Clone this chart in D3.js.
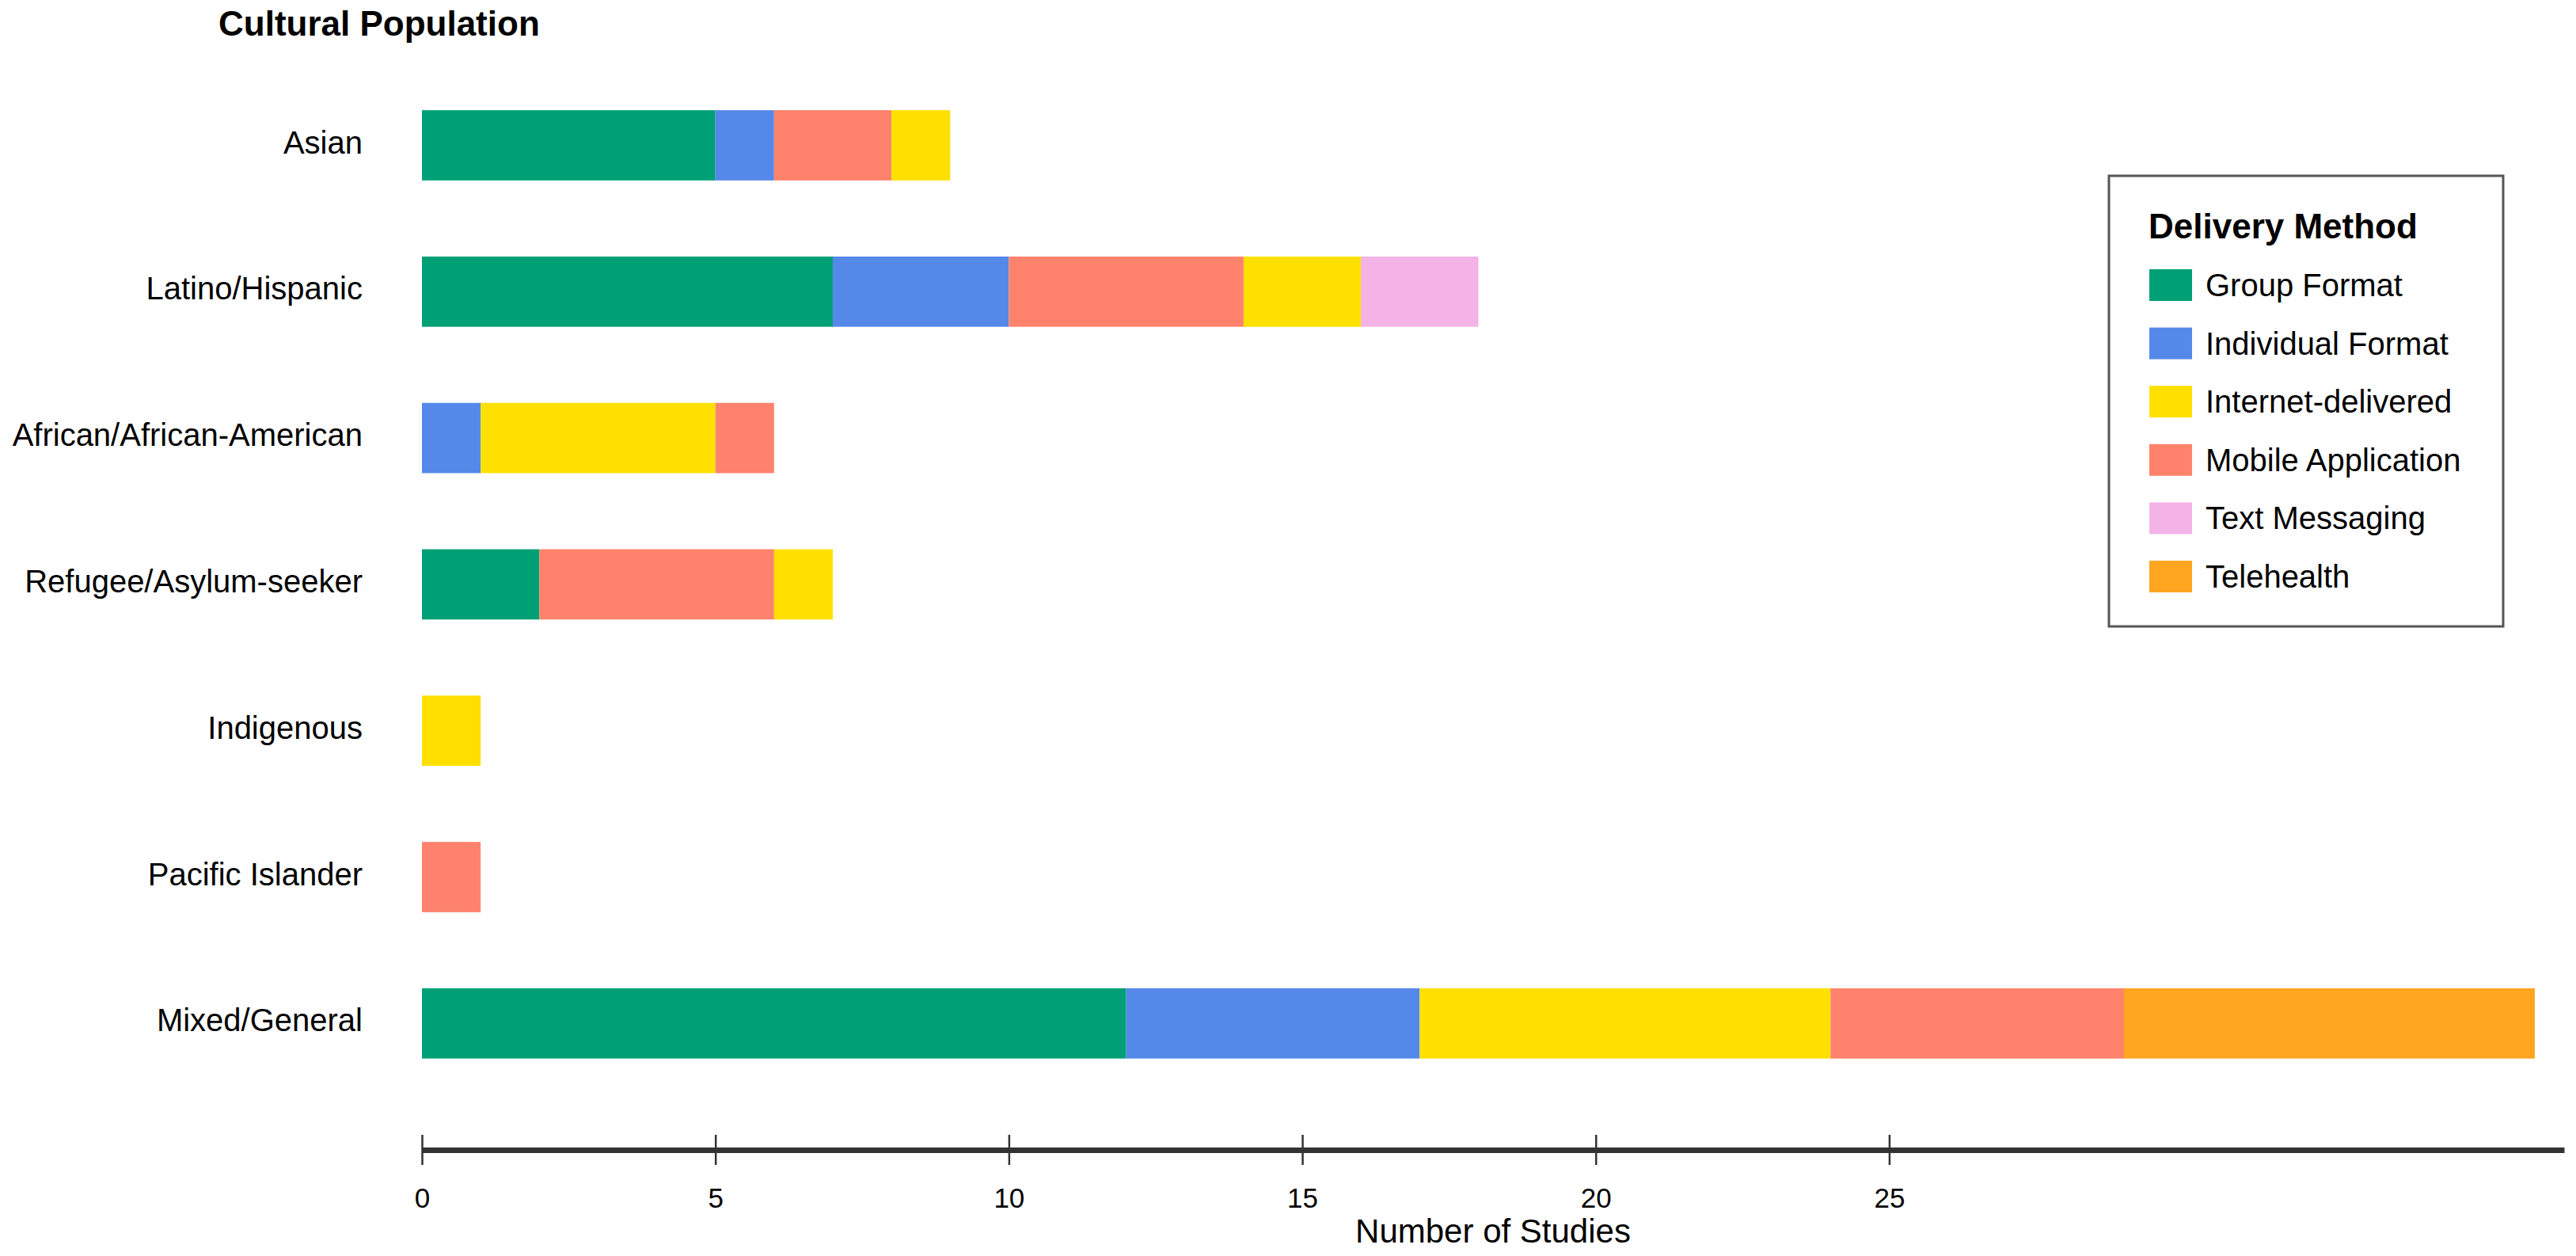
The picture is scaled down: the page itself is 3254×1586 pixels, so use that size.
<!DOCTYPE html>
<html>
<head>
<meta charset="utf-8">
<script src="https://cdn.jsdelivr.net/npm/d3@7"></script>
<style>
  html, body { margin: 0; padding: 0; background: #fff; }
  svg { display: block; font-family: "Liberation Sans", Arial, Helvetica, sans-serif; }
</style>
</head>
<body>
<svg id="chart" width="3254" height="1586"></svg>
<script>
// ---- Data ----
const categories = ["Asian", "Latino/Hispanic", "African/African-American", "Refugee/Asylum-seeker", "Indigenous", "Pacific Islander", "Mixed/General"];
const methods = ["Group Format", "Individual Format", "Internet-delivered", "Mobile Application", "Text Messaging", "Telehealth"];
const methodColors = ["#00a077", "#5589e9", "#ffe000", "#ff826c", "#f3b3e6", "#ffa520"];
// per-category segments in drawing order: [method, count]
const asianSegments = [["Group Format", 5], ["Individual Format", 1], ["Mobile Application", 2], ["Internet-delivered", 1]];
const latinoSegments = [["Group Format", 7], ["Individual Format", 3], ["Mobile Application", 4], ["Internet-delivered", 2], ["Text Messaging", 2]];
const africanSegments = [["Individual Format", 1], ["Internet-delivered", 4], ["Mobile Application", 1]];
const refugeeSegments = [["Group Format", 2], ["Mobile Application", 4], ["Internet-delivered", 1]];
const indigenousSegments = [["Internet-delivered", 1]];
const pacificSegments = [["Mobile Application", 1]];
const mixedSegments = [["Group Format", 12], ["Individual Format", 5], ["Internet-delivered", 7], ["Mobile Application", 5], ["Telehealth", 7]];
const segmentsByCategory = [asianSegments, latinoSegments, africanSegments, refugeeSegments, indigenousSegments, pacificSegments, mixedSegments];
const xTicks = [0, 5, 10, 15, 20, 25];
const xMax = 36.5;

// ---- Layout ----
const svg = d3.select("#chart");
const x = d3.scaleLinear().domain([0, xMax]).range([533, 3239]);
const step = 184.8;
const y = d3.scaleBand().domain(categories)
  .range([183.5 - step / 2, 183.5 - step / 2 + step * categories.length])
  .paddingInner(0.52).paddingOuter(0.26);
const color = d3.scaleOrdinal().domain(methods).range(methodColors);

// Title
svg.append("text").attr("x", 276).attr("y", 45)
  .attr("font-size", 44).attr("font-weight", "bold").attr("fill", "#000")
  .text("Cultural Population");

// Bars
const rows = svg.append("g");
categories.forEach((cat, i) => {
  let acc = 0;
  const segs = segmentsByCategory[i].map(([m, v]) => {
    const s = { method: m, x0: acc, x1: acc + v };
    acc += v;
    return s;
  });
  rows.selectAll(null).data(segs).enter().append("rect")
    .attr("x", d => x(d.x0))
    .attr("width", d => x(d.x1) - x(d.x0))
    .attr("y", y(cat))
    .attr("height", y.bandwidth())
    .attr("fill", d => color(d.method));
});

// Category labels
svg.append("g").selectAll("text").data(categories).enter().append("text")
  .attr("x", 458)
  .attr("y", d => y(d) + y.bandwidth() / 2 + 10)
  .attr("text-anchor", "end")
  .attr("font-size", 40)
  .attr("fill", "#000")
  .text(d => d);

// X axis
const axisY = 1452;
const ax = svg.append("g").attr("transform", `translate(0,${axisY})`)
  .call(d3.axisBottom(x).tickValues(xTicks).tickSizeOuter(0).tickSizeInner(19));
ax.select(".domain").attr("stroke", "#333").attr("stroke-width", 7);
ax.selectAll(".tick line").attr("y1", -19).attr("y2", 19).attr("stroke", "#333").attr("stroke-width", 2.5);
ax.selectAll(".tick text").attr("y", 73).attr("dy", 0)
  .attr("font-size", 35).attr("fill", "#000")
  .attr("font-family", "Liberation Sans, Arial, sans-serif");

svg.append("text").attr("x", (x.range()[0] + x.range()[1]) / 2).attr("y", 1569)
  .attr("text-anchor", "middle").attr("font-size", 42).attr("fill", "#000")
  .text("Number of Studies");

// Legend
const lg = svg.append("g");
lg.append("rect").attr("x", 2664).attr("y", 222).attr("width", 498).attr("height", 569)
  .attr("fill", "#fff").attr("stroke", "#555").attr("stroke-width", 3);
lg.append("text").attr("x", 2714).attr("y", 301)
  .attr("font-size", 44).attr("font-weight", "bold").attr("fill", "#000")
  .text("Delivery Method");
const items = lg.selectAll("g.item").data(methods).enter().append("g")
  .attr("class", "item")
  .attr("transform", (d, i) => `translate(0,${360 + i * 73.6})`);
items.append("rect").attr("x", 2715).attr("y", -20).attr("width", 54).attr("height", 40)
  .attr("fill", d => color(d));
items.append("text").attr("x", 2786).attr("y", 14)
  .attr("font-size", 40).attr("fill", "#000").text(d => d);
</script>
</body>
</html>
